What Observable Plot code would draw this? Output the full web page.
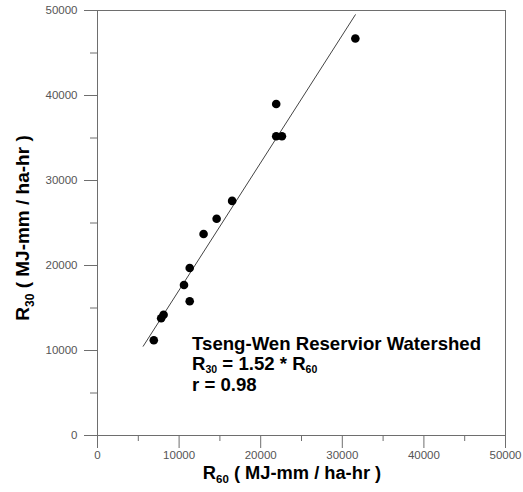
<!DOCTYPE html>
<html><head><meta charset="utf-8">
<script src="https://cdn.jsdelivr.net/npm/d3@7"></script>
<script src="https://cdn.jsdelivr.net/npm/@observablehq/plot@0.6"></script>
<style>
body{margin:0;background:#fff}
#chart svg{display:block}
</style>
</head><body><div id="chart"></div>
<script>
// Rainfall erosivity: R60 (x) vs R30 (y), MJ-mm / ha-hr
const r60 = [6900, 7800, 8100, 10600, 11300, 11300, 13000, 14600, 16500, 21900, 22600, 21900, 31600];
const r30 = [11200, 13800, 14200, 17700, 15800, 19700, 23700, 25500, 27600, 35200, 35200, 39000, 46700];
// regression line end points
const fitX = [5600, 31600];
const fitY = [10500, 49500];
// ticks
const majorTicks = [0, 10000, 20000, 30000, 40000, 50000];
const minorTicks = [5000, 15000, 25000, 35000, 45000];
// annotation text
const annoTitle = "Tseng-Wen Reservior Watershed";
const annoEq = {left: "R", leftSub: "30", mid: " = 1.52 * R", rightSub: "60"};
const annoR = "r = 0.98";
const annoPos = {x: 11650, y: 9950};
const axisUnit = "( MJ-mm / ha-hr )";

const points = r60.map((x, i) => ({x, y: r30[i]}));
const fit = fitX.map((x, i) => ({x, y: fitY[i]}));

const font = "'Liberation Sans', Arial, sans-serif";
const tickStroke = "#6e6e6e";
const tickText = "#555";

const chart = Plot.plot({
  width: 523,
  height: 492,
  marginLeft: 97,
  marginRight: 18,
  marginTop: 10,
  marginBottom: 57,
  style: {fontFamily: font, fontSize: "11.5px", background: "#fff", overflow: "visible"},
  x: {domain: [0, 50000]},
  y: {domain: [0, 50000]},
  marks: [
    Plot.frame({stroke: tickStroke}),
    Plot.axisX(majorTicks, {tickSize: 13, tickPadding: 2, stroke: tickStroke, fill: tickText, tickFormat: d => String(d), label: null}),
    Plot.axisX(minorTicks, {tickSize: 6, text: null, stroke: tickStroke, label: null}),
    Plot.axisY(majorTicks, {tickSize: 13, tickPadding: 7, stroke: tickStroke, fill: tickText, tickFormat: d => String(d), label: null}),
    Plot.axisY(minorTicks, {tickSize: 7, text: null, stroke: tickStroke, label: null}),
    Plot.line(fit, {x: "x", y: "y", stroke: "#444", strokeWidth: 1}),
    Plot.dot(points, {x: "x", y: "y", r: 4.3, fill: "#000", stroke: "none"})
  ]
});

const svg = d3.select(chart);
const sx = chart.scale("x"), sy = chart.scale("y");

function subText(g, parts, size, subSize, subDy) {
  parts.forEach(p => {
    if (p.sub) {
      g.append("tspan").attr("font-size", subSize).attr("dy", subDy).text(p.t);
    } else {
      g.append("tspan").attr("font-size", size).attr("dy", p.after ? -subDy : 0).text(p.t);
    }
  });
}

// x axis title
const xt = svg.append("text")
  .attr("x", 292).attr("y", 479)
  .attr("text-anchor", "middle")
  .attr("font-family", font).attr("font-weight", "bold").attr("fill", "#000");
subText(xt, [{t: "R"}, {t: "60", sub: true}, {t: " " + axisUnit, after: true}], 18.3, 11.5, 4);

// y axis title
const yt = svg.append("text")
  .attr("transform", "translate(29,228) rotate(-90)")
  .attr("text-anchor", "middle")
  .attr("font-family", font).attr("font-weight", "bold").attr("fill", "#000");
subText(yt, [{t: "R"}, {t: "30", sub: true}, {t: " " + axisUnit, after: true}], 19, 12, 5);

// annotation
const ax = sx.apply(annoPos.x), ay = sy.apply(annoPos.y);
const ag = svg.append("g").attr("font-family", font).attr("font-weight", "bold").attr("fill", "#000").attr("text-anchor", "start");
ag.append("text").attr("x", ax).attr("y", ay).attr("font-size", 18.6).text(annoTitle);
const eq = ag.append("text").attr("x", ax).attr("y", ay + 19.5);
subText(eq, [{t: annoEq.left}, {t: annoEq.leftSub, sub: true}, {t: annoEq.mid, after: true}, {t: annoEq.rightSub, sub: true}], 18.6, 10.5, 3);
ag.append("text").attr("x", ax).attr("y", ay + 41).attr("font-size", 18.6).text(annoR);

document.getElementById("chart").appendChild(chart);
</script>
</body></html>
